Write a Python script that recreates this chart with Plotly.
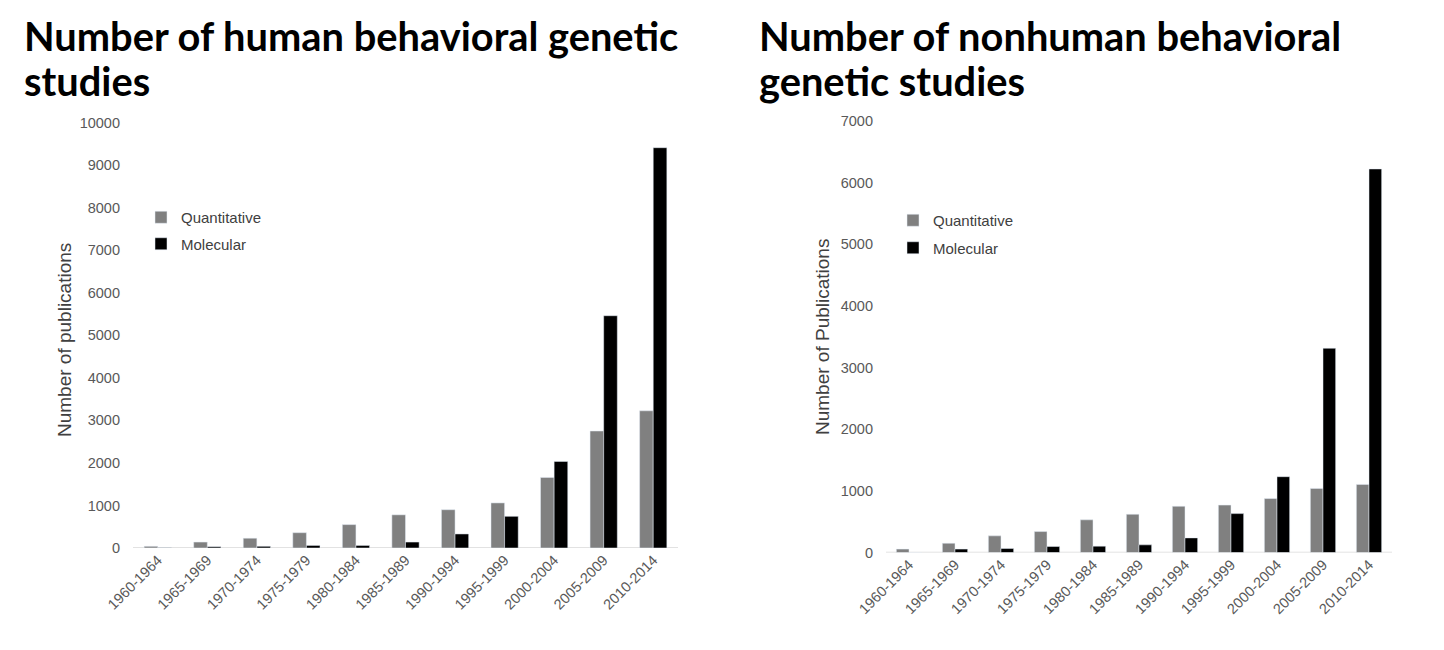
import plotly.graph_objects as go

periods = ["1960-1964", "1965-1969", "1970-1974", "1975-1979", "1980-1984",
           "1985-1989", "1990-1994", "1995-1999", "2000-2004", "2005-2009", "2010-2014"]

human_quant = [40, 140, 230, 360, 550, 780, 900, 1060, 1660, 2750, 3225]
human_mol = [5, 30, 40, 60, 60, 140, 330, 745, 2035, 5460, 9410]

nonhuman_quant = [55, 150, 270, 340, 530, 620, 750, 770, 875, 1040, 1105]
nonhuman_mol = [0, 55, 65, 97, 103, 124, 237, 631, 1230, 3313, 6222]

GRAY = "#808080"
BLACK = "#000000"
TICK = "#595959"
FONT = "Liberation Sans, Arial, sans-serif"
TITLE_FONT = "Lato, Open Sans, sans-serif"
W, H = 1444, 650
OFF = 8  # page body margin


def px(x):
    return (x - OFF) / W


def py(y):
    return 1 - (y - OFF) / H


fig = go.Figure()

fig.add_trace(go.Bar(x=periods, y=human_quant, name="Quantitative", marker_color=GRAY,
                     xaxis="x", yaxis="y", legend="legend", legendgroup="a"))
fig.add_trace(go.Bar(x=periods, y=human_mol, name="Molecular", marker_color=BLACK,
                     xaxis="x", yaxis="y", legend="legend", legendgroup="b"))
fig.add_trace(go.Bar(x=periods, y=nonhuman_quant, name="Quantitative", marker_color=GRAY,
                     xaxis="x2", yaxis="y2", legend="legend2", legendgroup="c"))
fig.add_trace(go.Bar(x=periods, y=nonhuman_mol, name="Molecular", marker_color=BLACK,
                     xaxis="x2", yaxis="y2", legend="legend2", legendgroup="d"))

xcommon = dict(tickangle=-45, tickfont=dict(size=14.5, color=TICK, family=FONT),
               showline=False, showgrid=False, ticks="", zeroline=False, automargin=False)
ycommon = dict(showgrid=False, zeroline=False, showline=False, ticks="", automargin=False,
               tickfont=dict(size=14.5, color=TICK, family=FONT), dtick=1000,
               tickformat="d", ticklabelstandoff=12)

legend_font = dict(size=15, color="#404040", family=FONT)

fig.update_layout(
    width=W, height=H,
    margin=dict(l=0, r=0, t=0, b=0),
    paper_bgcolor="white", plot_bgcolor="white",
    barmode="group", bargap=0.45, bargroupgap=0,
    font=dict(family=FONT, color=TICK),
    xaxis=dict(domain=[px(133), px(678)], anchor="y", **xcommon),
    yaxis=dict(domain=[py(548), py(122.6)], anchor="x", range=[0, 10000], **ycommon),
    xaxis2=dict(domain=[px(886), px(1392)], anchor="y2", **xcommon),
    yaxis2=dict(domain=[py(552.5), py(121)], anchor="x2", range=[0, 7000], **ycommon),
    legend=dict(x=px(141), y=py(201), xanchor="left", yanchor="top", font=legend_font,
                traceorder="grouped", tracegroupgap=4, bgcolor="rgba(0,0,0,0)"),
    legend2=dict(x=px(893), y=py(204), xanchor="left", yanchor="top", font=legend_font,
                 traceorder="grouped", tracegroupgap=5, bgcolor="rgba(0,0,0,0)"),
    shapes=[
        dict(type="line", xref="x domain", yref="y", x0=0, x1=1, y0=0, y1=0,
             line=dict(color="#d9d9d9", width=1.5), layer="below"),
        dict(type="line", xref="x2 domain", yref="y2", x0=0, x1=1, y0=0, y1=0,
             line=dict(color="#d9d9d9", width=1.5), layer="below"),
    ],
)

annotations = [
    ("Number of human behavioral genetic", 22, 10),
    ("studies", 22, 55),
    ("Number of nonhuman behavioral", 757, 10),
    ("genetic studies", 757, 55),
]
for text, x, y in annotations:
    fig.add_annotation(text=f"<b>{text}</b>", xref="paper", yref="paper",
                       x=px(x), y=py(y), xanchor="left", yanchor="top", align="left",
                       showarrow=False, font=dict(size=39.8, color="black", family=TITLE_FONT))

for text, x, y in [("Number of publications", 64, 340), ("Number of Publications", 822, 337)]:
    fig.add_annotation(text=text, xref="paper", yref="paper", x=px(x), y=py(y),
                       xanchor="center", yanchor="middle", textangle=-90, showarrow=False,
                       font=dict(size=19, color="#404040", family=FONT))

fig.write_html("out.html")
